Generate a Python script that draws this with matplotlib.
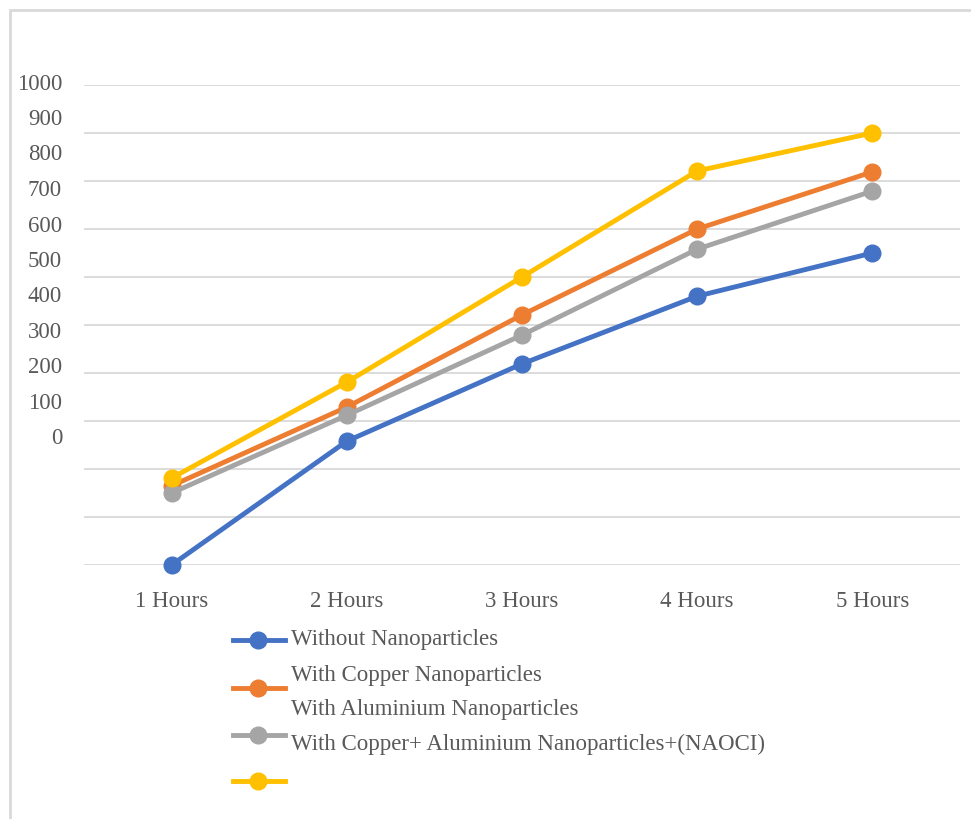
import matplotlib.pyplot as plt
from matplotlib.patches import Rectangle
from matplotlib.lines import Line2D

hours = ["1 Hours", "2 Hours", "3 Hours", "4 Hours", "5 Hours"]
without_np = [0, 258, 419, 560, 650]
copper_np = [165, 329, 521, 700, 819]
aluminium_np = [150, 312, 479, 658, 779]
cu_al_naocl = [181, 381, 600, 821, 900]
y_labels = ["1000", "900", "800", "700", "600", "500", "400", "300", "200", "100", "0"]
legend_labels = ["Without Nanoparticles", "With Copper Nanoparticles",
                 "With Aluminium Nanoparticles",
                 "With Copper+ Aluminium Nanoparticles+(NAOCI)"]

colors = ['#4472c4', '#ed7d31', '#a5a5a5', '#ffc000']
W, H = 971, 819
plt.rcParams['font.family'] = ['Liberation Serif', 'DejaVu Serif']
txt_color = '#595959'
fs = 16.5

fig = plt.figure(figsize=(W / 100, H / 100), dpi=100)
fig.patches.append(Rectangle((10 / W, -0.05), 1.1, 1 - 10 / H + 0.05,
                             transform=fig.transFigure, fill=False,
                             edgecolor='#d9d9d9', lw=2))

ax = fig.add_axes([84 / W, 1 - 565 / H, (960 - 84) / W, (565 - 85) / H])
x = range(len(hours))
series = [without_np, copper_np, aluminium_np, cu_al_naocl]
for s, c in zip(series, colors):
    ax.plot(x, s, color=c, lw=3.5, marker='o', ms=12, zorder=3, clip_on=False)

ax.set_xlim(-0.5, len(hours) - 0.5)
ax.set_ylim(0, 1000)
ax.set_yticks(range(0, 1001, 100))
ax.set_yticklabels([])
ax.grid(axis='y', color='#d9d9d9', lw=1.3)
ax.set_axisbelow(True)
ax.set_xticks(list(x))
ax.set_xticklabels(hours, fontsize=fs, color=txt_color)
ax.tick_params(length=0, pad=19)
for sp in ax.spines.values():
    sp.set_visible(False)

# y labels drawn offset from gridlines, as in the reference
for i, lab in enumerate(y_labels):
    fig.text(62 / W, 1 - (84 + 35.5 * i) / H, lab, ha='right', va='center',
             fontsize=fs, color=txt_color)

# legend
line_rows = [640, 688, 735, 781]
for y, c in zip(line_rows, colors):
    fig.add_artist(Line2D([233 / W, 285 / W], [1 - y / H] * 2, color=c, lw=3.5,
                          transform=fig.transFigure))
    fig.add_artist(Line2D([258 / W], [1 - y / H], color=c, marker='o', ms=12,
                          transform=fig.transFigure))
text_rows = [640, 675, 710, 744]
for y, lab in zip(text_rows, legend_labels):
    fig.text(291 / W, 1 - y / H, lab, ha='left', va='center',
             fontsize=fs, color=txt_color)

fig.savefig("out.png", dpi=100)
